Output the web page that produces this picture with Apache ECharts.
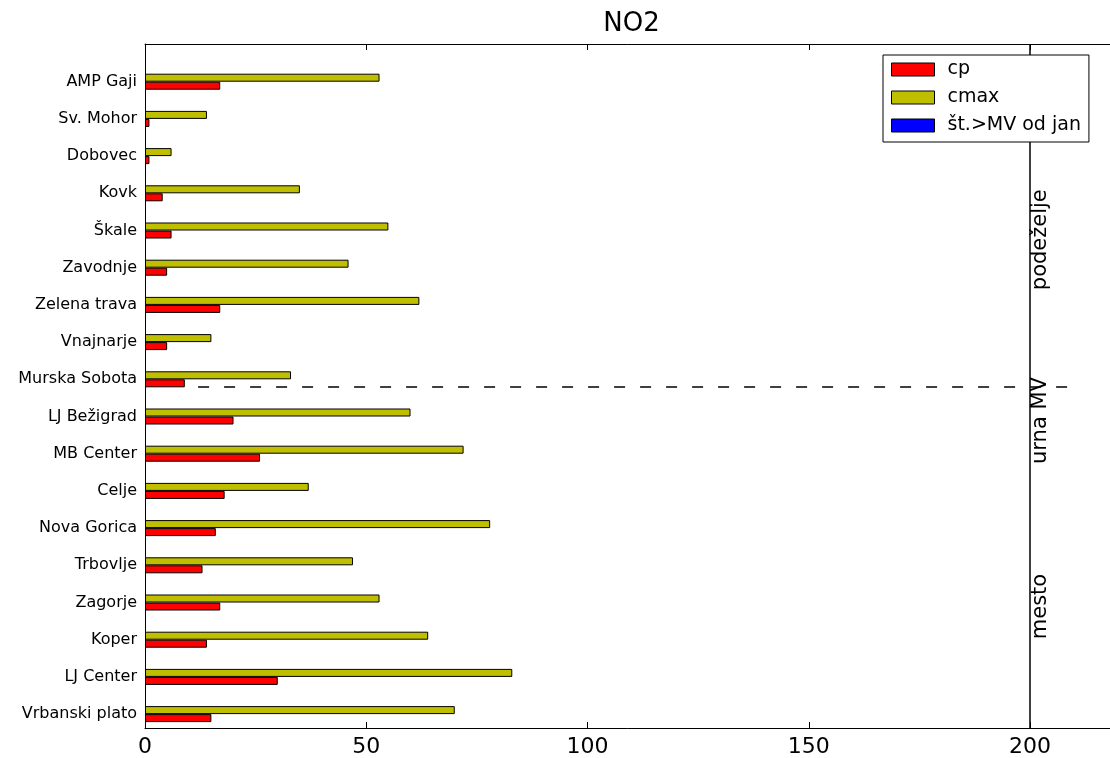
<!DOCTYPE html>
<html>
<head>
<meta charset="utf-8">
<script src="https://cdn.jsdelivr.net/npm/echarts@6/dist/echarts.min.js"></script>
<style>
html,body{margin:0;padding:0;background:#fff;}
#chart{width:1110px;height:758px;}
</style>
</head>
<body>
<div id="chart"></div>
<script>
// ---- data (top to bottom as shown) ----
const categories = ['AMP Gaji','Sv. Mohor','Dobovec','Kovk','Škale','Zavodnje','Zelena trava','Vnajnarje','Murska Sobota','LJ Bežigrad','MB Center','Celje','Nova Gorica','Trbovlje','Zagorje','Koper','LJ Center','Vrbanski plato'];
const cp =     [17, 1, 1, 4, 6, 5, 17, 5, 9, 20, 26, 18, 16, 13, 17, 14, 30, 15];
const cmax =   [53, 14, 6, 35, 55, 46, 62, 15, 33, 60, 72, 37, 78, 47, 53, 64, 83, 70];
const exceed = [0, 0, 0, 0, 0, 0, 0, 0, 0, 0, 0, 0, 0, 0, 0, 0, 0, 0];
const seriesNames = ['cp', 'cmax', 'št.>MV od jan'];
const xTicks = [0, 50, 100, 150, 200];
const xMax = 220;
// annotations (in axis units: x value, y = row index counted from bottom)
const mvLineX = 200;
const dashLine = {y: 8.8, x0: 12, x1: 210};
const regionNames = ['podeželje', 'urna MV', 'mesto'];
const regionY = [12.74, 7.88, 2.88];

const FONT = 'DejaVu Sans';
const chart = echarts.init(document.getElementById('chart'), null, {renderer: 'canvas'});

const gridLeft = 145, gridWidth = 973.5;

const option = {
  animation: false,
  backgroundColor: '#ffffff',
  title: {
    text: 'NO2',
    left: 631.5,
    textAlign: 'center',
    top: 11,
    padding: 0,
    textStyle: {fontFamily: FONT, fontSize: 26, fontWeight: 'normal', color: '#000'}
  },
  legend: {
    orient: 'vertical',
    left: 883,
    top: 55,
    padding: [5, 8, 7, 8],
    itemWidth: 43,
    itemHeight: 13,
    itemGap: 9,
    icon: 'rect',
    backgroundColor: '#ffffff',
    borderColor: '#000',
    borderWidth: 1,
    borderRadius: 0,
    z: 10,
    data: seriesNames,
    itemStyle: {borderColor: '#000', borderWidth: 1},
    textStyle: {fontFamily: FONT, fontSize: 19, color: '#000', padding: [0, 0, 0, 8]}
  },
  grid: [
    {left: gridLeft, width: gridWidth, top: 44, height: 684, containLabel: false, outerBoundsMode: 'none'},
    {left: gridLeft, width: gridWidth, top: 63.1, height: 669.6, containLabel: false, outerBoundsMode: 'none'}
  ],
  xAxis: [
    {
      gridIndex: 0, type: 'value', min: 0, max: xMax, interval: 50, position: 'bottom',
      axisLine: {show: true, onZero: false, lineStyle: {color: '#000', width: 1}},
      axisTick: {show: true, inside: true, length: 6, lineStyle: {color: '#000'}},
      axisLabel: {show: true, margin: 8, showMaxLabel: false, fontFamily: FONT, fontSize: 22, color: '#000',
        formatter: v => (xTicks.indexOf(v) >= 0 ? String(v) : '')},
      splitLine: {show: false}
    },
    {
      gridIndex: 0, type: 'value', min: 0, max: xMax, interval: 50, position: 'top',
      axisLine: {show: true, onZero: false, lineStyle: {color: '#000', width: 1}},
      axisTick: {show: true, inside: true, length: 6, lineStyle: {color: '#000'}},
      axisLabel: {show: false},
      splitLine: {show: false}
    },
    {
      gridIndex: 1, type: 'value', min: 0, max: xMax, show: false
    }
  ],
  yAxis: [
    {
      gridIndex: 0, type: 'value', min: -0.385, max: 18,
      axisLine: {show: true, onZero: false, lineStyle: {color: '#000', width: 1}},
      axisTick: {show: false}, axisLabel: {show: false}, splitLine: {show: false}
    },
    {
      gridIndex: 1, type: 'category', data: categories, inverse: true,
      axisLine: {show: false}, axisTick: {show: false},
      axisLabel: {show: true, margin: 8, fontFamily: FONT, fontSize: 16, color: '#000'},
      splitLine: {show: false}
    }
  ],
  series: [
    {
      name: 'cmax', type: 'bar', xAxisIndex: 2, yAxisIndex: 1, stack: 'top',
      data: cmax, barWidth: 8, barGap: '0%',
      itemStyle: {color: '#bfbf00', borderColor: '#000', borderWidth: 1}
    },
    {
      name: 'št.>MV od jan', type: 'bar', xAxisIndex: 2, yAxisIndex: 1, stack: 'top',
      data: exceed, barWidth: 8,
      itemStyle: {color: '#0000ff', borderColor: '#000', borderWidth: 0}
    },
    {
      name: 'cp', type: 'bar', xAxisIndex: 2, yAxisIndex: 1,
      data: cp, barWidth: 8, barGap: '0%',
      itemStyle: {color: '#ff0000', borderColor: '#000', borderWidth: 1}
    },
    {
      name: 'annotations', type: 'scatter', xAxisIndex: 0, yAxisIndex: 0,
      symbolSize: 0, silent: true, z: 3,
      itemStyle: {color: '#000', opacity: 1},
      data: regionNames.map((n, i) => ({name: n, value: [mvLineX, regionY[i]]})),
      label: {
        show: true, position: 'inside', rotate: 90, align: 'center', verticalAlign: 'top',
        formatter: p => p.name, fontFamily: FONT, fontSize: 21, color: '#000', opacity: 1,
        textBorderWidth: 0, textBorderColor: 'transparent'
      },
      markLine: {
        silent: true, symbol: ['none', 'none'], label: {show: false}, animation: false,
        data: [
          {xAxis: mvLineX, lineStyle: {color: '#000', width: 1.5, type: 'solid', opacity: 1}},
          [
            {coord: [dashLine.x0, dashLine.y], lineStyle: {color: '#000', width: 1.5, type: [11, 15], opacity: 1}},
            {coord: [dashLine.x1, dashLine.y]}
          ]
        ]
      }
    }
  ]
};
chart.setOption(option);
</script>
</body>
</html>
